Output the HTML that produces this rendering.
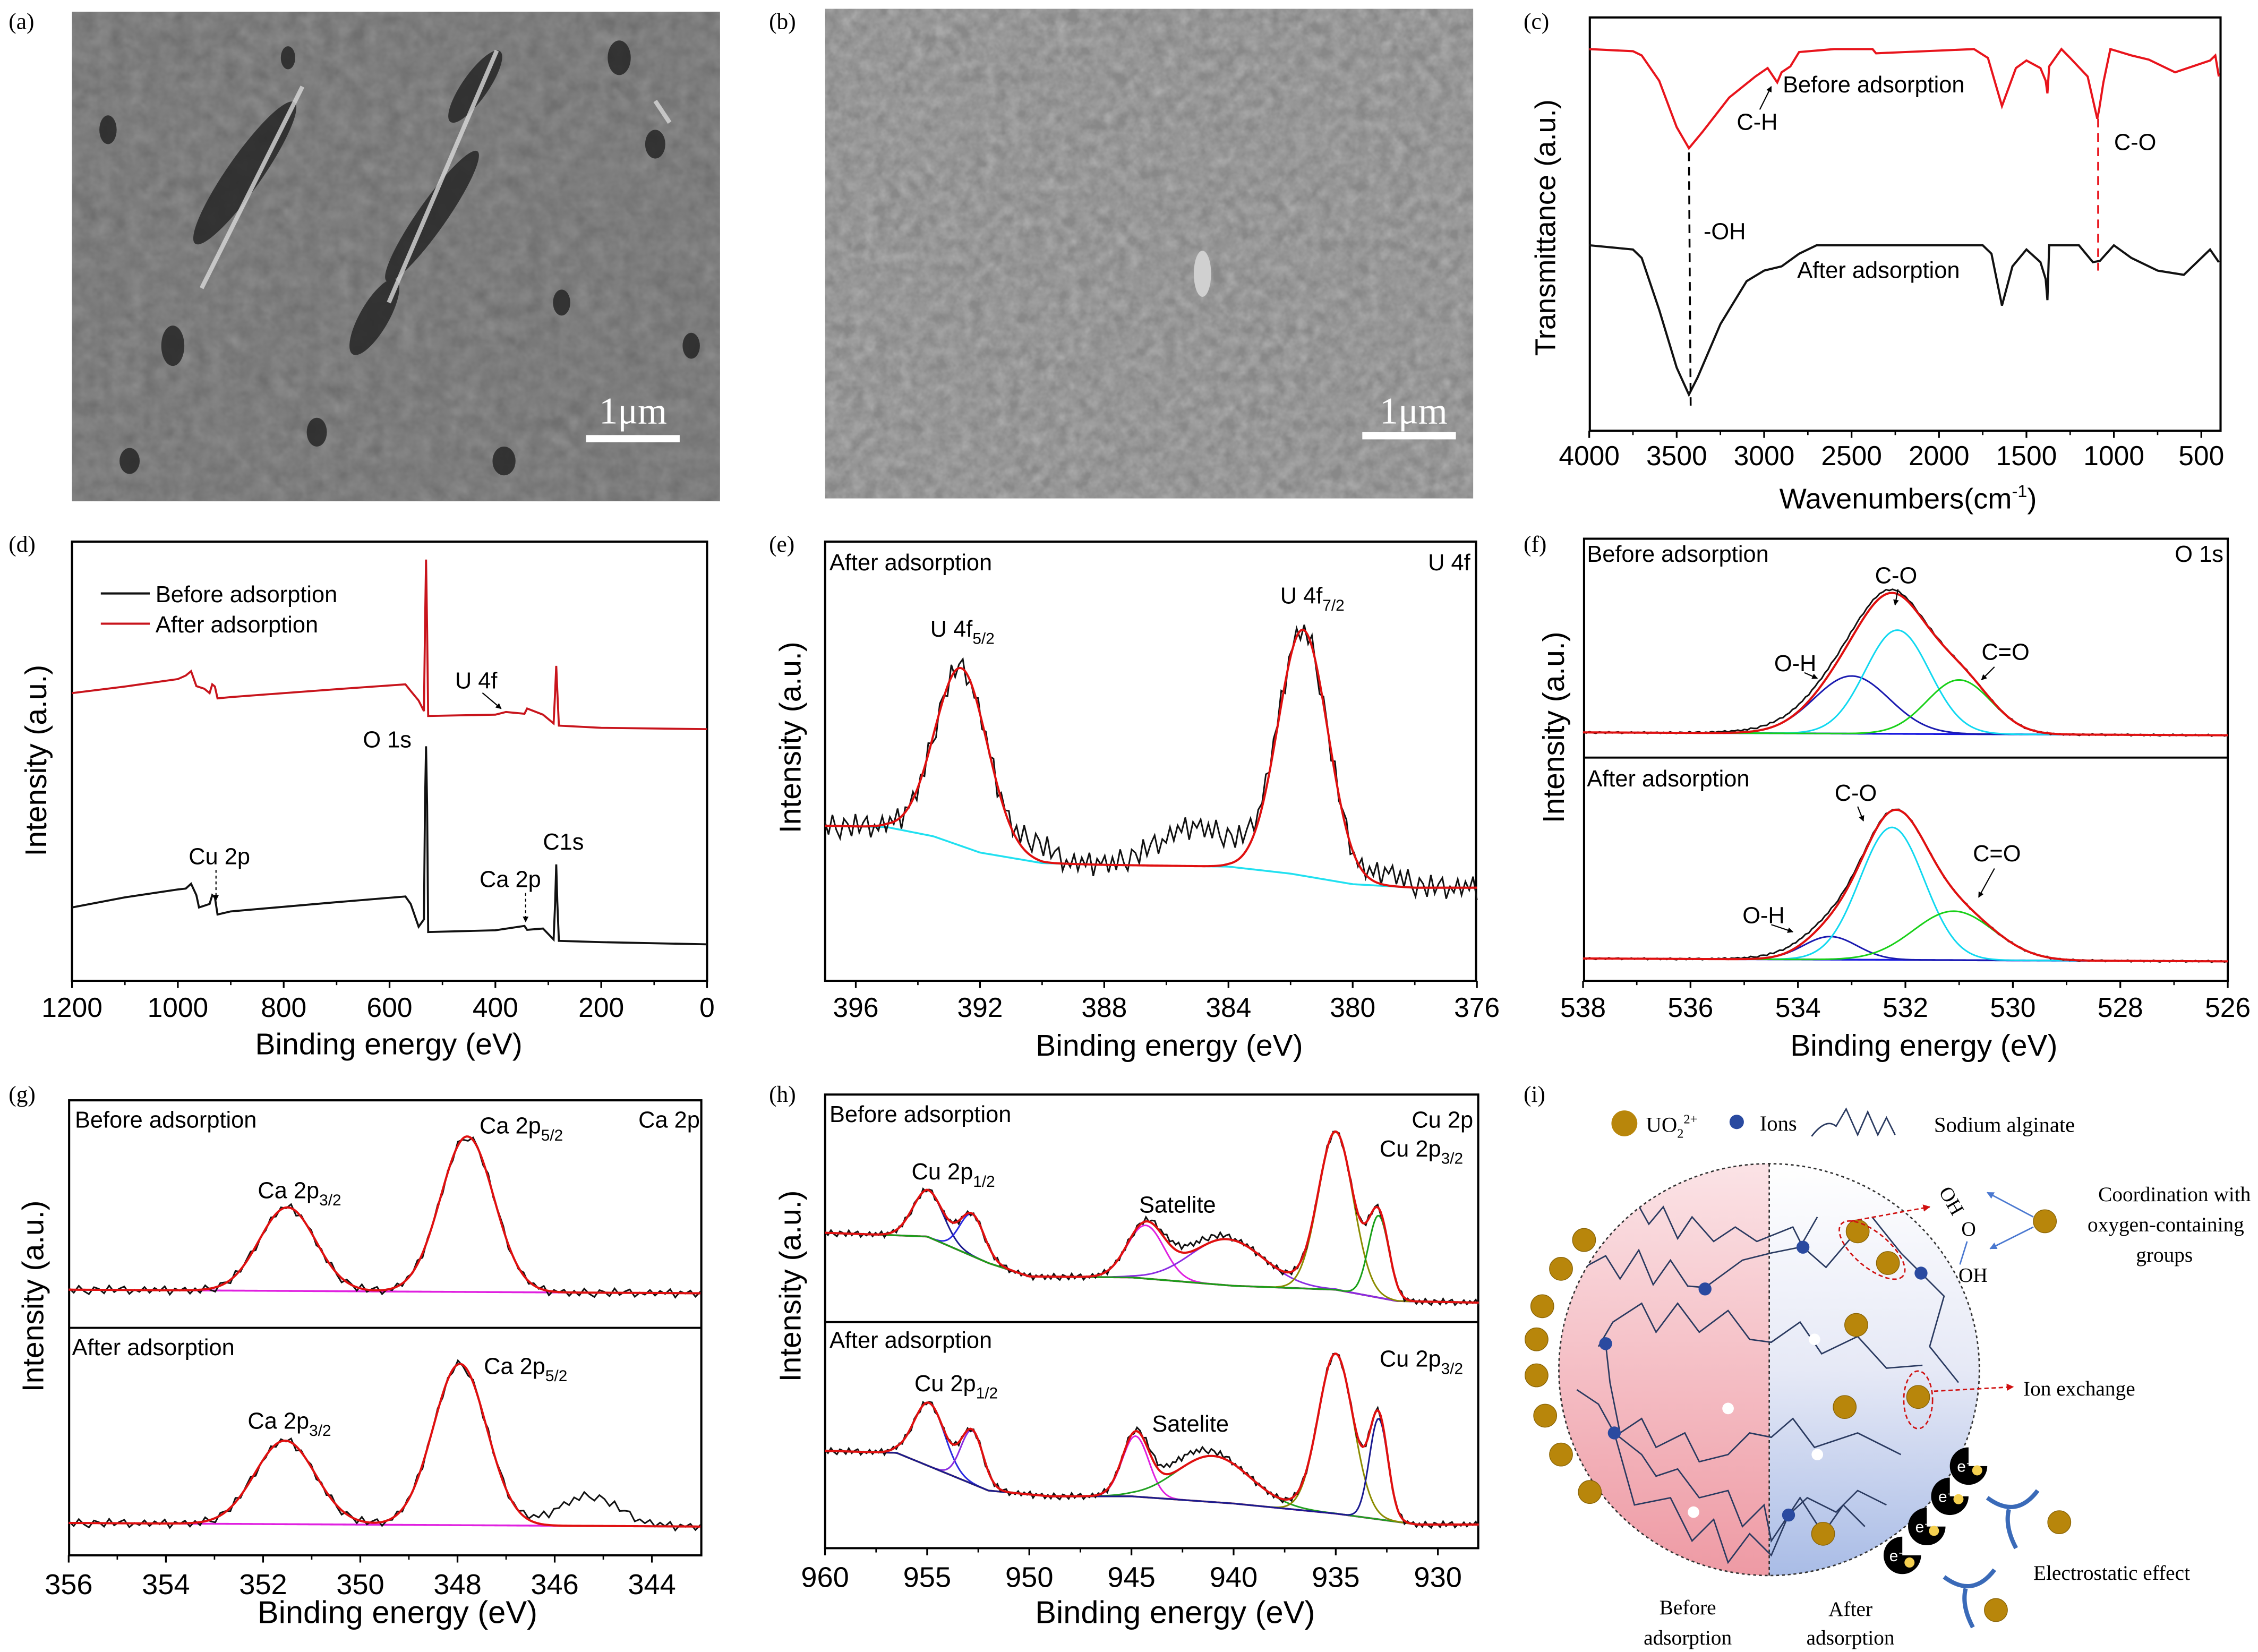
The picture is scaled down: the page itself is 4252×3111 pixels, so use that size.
<!DOCTYPE html>
<html><head><meta charset="utf-8"><style>
html,body{margin:0;padding:0;background:#fff;}
svg{display:block;}
text{font-family:"Liberation Sans",sans-serif;}
.serif{font-family:"Liberation Serif",serif;}
</style></head><body>
<svg id="fig" xmlns="http://www.w3.org/2000/svg" width="4252" height="3111" viewBox="0 0 1568 1147">
<defs>
<filter id="semA" x="0" y="0" width="100%" height="100%"><feTurbulence type="fractalNoise" baseFrequency="0.09" numOctaves="3" seed="3"/><feColorMatrix type="matrix" values="0 0 0 0 0.5  0 0 0 0 0.5  0 0 0 0 0.5  0.25 0.25 0.25 0 -0.2"/></filter>
<filter id="semB" x="0" y="0" width="100%" height="100%"><feTurbulence type="fractalNoise" baseFrequency="0.12" numOctaves="3" seed="7"/><feColorMatrix type="matrix" values="0 0 0 0 0.7  0 0 0 0 0.7  0 0 0 0 0.7  0.35 0.35 0.35 0 -0.35"/></filter>
<linearGradient id="gl" x1="0" y1="0" x2="0" y2="1"><stop offset="0" stop-color="#fbe3e6"/><stop offset="1" stop-color="#ee9aa4"/></linearGradient>
<linearGradient id="gr" x1="0" y1="0" x2="0" y2="1"><stop offset="0" stop-color="#ffffff"/><stop offset="0.5" stop-color="#e6e9f6"/><stop offset="1" stop-color="#a9bce6"/></linearGradient>
<clipPath id="cl"><rect x="1075" y="800" width="153.6" height="300"/></clipPath>
<clipPath id="cr"><rect x="1228.6" y="800" width="160" height="300"/></clipPath>
<clipPath id="cball"><ellipse cx="1228.5" cy="951" rx="146" ry="143"/></clipPath>
<marker id="arr" viewBox="0 0 10 10" refX="9" refY="5" markerWidth="5" markerHeight="5" orient="auto"><path d="M0,0L10,5L0,10z" fill="#000"/></marker>
<marker id="arrR" viewBox="0 0 10 10" refX="9" refY="5" markerWidth="5" markerHeight="5" orient="auto"><path d="M0,0L10,5L0,10z" fill="#d01010"/></marker>
<marker id="arrB" viewBox="0 0 10 10" refX="9" refY="5" markerWidth="5" markerHeight="5" orient="auto"><path d="M0,0L10,5L0,10z" fill="#4a78d0"/></marker>
</defs>

<text class="serif" x="6" y="20" font-size="16">(a)</text>
<text class="serif" x="534" y="20" font-size="16">(b)</text>
<text class="serif" x="1058" y="20" font-size="16">(c)</text>
<text class="serif" x="6" y="383" font-size="16">(d)</text>
<text class="serif" x="534" y="383" font-size="16">(e)</text>
<text class="serif" x="1058" y="383" font-size="16">(f)</text>
<text class="serif" x="6" y="765" font-size="16">(g)</text>
<text class="serif" x="534" y="765" font-size="16">(h)</text>
<text class="serif" x="1058" y="765" font-size="16">(i)</text>

<g>
<rect x="50" y="8" width="450" height="340" fill="#6f6f6f"/>
<rect x="50" y="8" width="450" height="340" filter="url(#semA)"/>
<g fill="#262626" opacity="0.85">
<ellipse cx="170" cy="120" rx="12" ry="60" transform="rotate(35 170 120)"/>
<ellipse cx="300" cy="150" rx="10" ry="55" transform="rotate(35 300 150)"/>
<ellipse cx="330" cy="60" rx="9" ry="30" transform="rotate(35 330 60)"/>
<ellipse cx="260" cy="220" rx="10" ry="30" transform="rotate(30 260 220)"/>
<ellipse cx="120" cy="240" rx="8" ry="14"/><ellipse cx="430" cy="40" rx="8" ry="12"/>
<ellipse cx="455" cy="100" rx="7" ry="10"/><ellipse cx="390" cy="210" rx="6" ry="9"/>
<ellipse cx="75" cy="90" rx="6" ry="10"/><ellipse cx="220" cy="300" rx="7" ry="10"/>
<ellipse cx="350" cy="320" rx="8" ry="10"/><ellipse cx="480" cy="240" rx="6" ry="9"/>
<ellipse cx="90" cy="320" rx="7" ry="9"/><ellipse cx="200" cy="40" rx="5" ry="8"/>
</g>
<g stroke="#d8d8d8" stroke-width="3" fill="none" opacity="0.8">
<path d="M140 200 L210 60"/><path d="M270 210 L345 35"/><path d="M455 70 L465 85"/>
</g>
<rect x="407" y="302" width="65" height="5" fill="#fff"/>
<text class="serif" x="416" y="294" font-size="26" fill="#fff">1μm</text>
</g>
<g>
<rect x="573" y="6" width="450" height="340" fill="#888"/>
<rect x="573" y="6" width="450" height="340" filter="url(#semB)"/>
<ellipse cx="835" cy="190" rx="6" ry="16" fill="#d0d0d0"/>
<rect x="946" y="300" width="65" height="5" fill="#fff"/>
<text class="serif" x="958" y="294" font-size="26" fill="#fff">1μm</text>
</g>

<g id="plots"></g>

<g font-size="19">
<text x="1325" y="353" text-anchor="middle" font-size="20">Wavenumbers(cm<tspan dy="-8" font-size="12">-1</tspan><tspan dy="8">)</tspan></text>
<text transform="translate(1080 158) rotate(-90)" text-anchor="middle" font-size="20">Transmittance (a.u.)</text>
<text x="1238" y="64" font-size="16">Before adsorption</text>
<text x="1248" y="193" font-size="16">After adsorption</text>
<text x="1206" y="90" font-size="16">C-H</text>
<text x="1468" y="104" font-size="16">C-O</text>
<text x="1183" y="166" font-size="16">-OH</text>

<text x="270" y="732" text-anchor="middle" font-size="21">Binding energy (eV)</text>
<text transform="translate(32 528) rotate(-90)" text-anchor="middle" font-size="21">Intensity (a.u.)</text>
<text x="108" y="418" font-size="16">Before adsorption</text>
<text x="108" y="439" font-size="16">After adsorption</text>
<text x="316" y="478" font-size="16">U 4f</text>
<text x="252" y="519" font-size="16">O 1s</text>
<text x="131" y="600" font-size="16">Cu 2p</text>
<text x="333" y="616" font-size="16">Ca 2p</text>
<text x="377" y="590" font-size="16">C1s</text>

<text x="812" y="733" text-anchor="middle" font-size="21">Binding energy (eV)</text>
<text transform="translate(556 512) rotate(-90)" text-anchor="middle" font-size="21">Intensity (a.u.)</text>
<text x="576" y="396" font-size="16">After adsorption</text>
<text x="1021" y="396" font-size="16" text-anchor="end">U 4f</text>
<text x="646" y="442" font-size="16">U 4f<tspan dy="5" font-size="11">5/2</tspan></text>
<text x="889" y="419" font-size="16">U 4f<tspan dy="5" font-size="11">7/2</tspan></text>

<text x="1336" y="733" text-anchor="middle" font-size="21">Binding energy (eV)</text>
<text transform="translate(1086 505) rotate(-90)" text-anchor="middle" font-size="21">Intensity (a.u.)</text>
<text x="1102" y="390" font-size="16">Before adsorption</text>
<text x="1544" y="390" font-size="16" text-anchor="end">O 1s</text>
<text x="1302" y="405" font-size="16">C-O</text>
<text x="1376" y="458" font-size="16">C=O</text>
<text x="1232" y="466" font-size="16">O-H</text>
<text x="1102" y="546" font-size="16">After adsorption</text>
<text x="1274" y="556" font-size="16">C-O</text>
<text x="1370" y="598" font-size="16">C=O</text>
<text x="1210" y="641" font-size="16">O-H</text>

<text x="276" y="1127" text-anchor="middle" font-size="22">Binding energy (eV)</text>
<text transform="translate(30 900) rotate(-90)" text-anchor="middle" font-size="21">Intensity (a.u.)</text>
<text x="52" y="783" font-size="16">Before adsorption</text>
<text x="486" y="783" font-size="16" text-anchor="end">Ca 2p</text>
<text x="179" y="832" font-size="16">Ca 2p<tspan dy="5" font-size="11">3/2</tspan></text>
<text x="333" y="787" font-size="16">Ca 2p<tspan dy="5" font-size="11">5/2</tspan></text>
<text x="50" y="941" font-size="16">After adsorption</text>
<text x="172" y="992" font-size="16">Ca 2p<tspan dy="5" font-size="11">3/2</tspan></text>
<text x="336" y="954" font-size="16">Ca 2p<tspan dy="5" font-size="11">5/2</tspan></text>

<text x="816" y="1127" text-anchor="middle" font-size="22">Binding energy (eV)</text>
<text transform="translate(556 893) rotate(-90)" text-anchor="middle" font-size="21">Intensity (a.u.)</text>
<text x="576" y="779" font-size="16">Before adsorption</text>
<text x="1023" y="783" font-size="16" text-anchor="end">Cu 2p</text>
<text x="958" y="803" font-size="16">Cu 2p<tspan dy="5" font-size="11">3/2</tspan></text>
<text x="633" y="819" font-size="16">Cu 2p<tspan dy="5" font-size="11">1/2</tspan></text>
<text x="791" y="842" font-size="16">Satelite</text>
<text x="576" y="936" font-size="16">After adsorption</text>
<text x="958" y="949" font-size="16">Cu 2p<tspan dy="5" font-size="11">3/2</tspan></text>
<text x="635" y="966" font-size="16">Cu 2p<tspan dy="5" font-size="11">1/2</tspan></text>
<text x="800" y="994" font-size="16">Satelite</text>
</g>

<g>
<circle cx="1128" cy="780" r="9" fill="#b8860b"/>
<text class="serif" x="1143" y="786" font-size="15">UO<tspan dy="4" font-size="9">2</tspan><tspan dy="-10" font-size="9">2+</tspan></text>
<circle cx="1206" cy="779" r="5" fill="#2a4aa0"/>
<text class="serif" x="1222" y="785" font-size="15">Ions</text>
<path d="M1258 789 Q1268 776 1275 782 L1282 770 L1290 788 L1297 772 L1304 788 L1310 776 L1316 788" fill="none" stroke="#2a3a60" stroke-width="1"/>
<text class="serif" x="1343" y="786" font-size="15">Sodium alginate</text>
<ellipse cx="1228.5" cy="951" rx="146" ry="143" fill="url(#gl)" clip-path="url(#cl)"/>
<ellipse cx="1228.5" cy="951" rx="146" ry="143" fill="url(#gr)" clip-path="url(#cr)"/>
<ellipse cx="1228.5" cy="951" rx="146" ry="143" fill="none" stroke="#333" stroke-dasharray="2,2" stroke-width="1"/>
<line x1="1228.6" y1="808" x2="1228.6" y2="1094" stroke="#333" stroke-dasharray="2,2"/>
<g fill="none" stroke="#2a3a60" stroke-width="1" clip-path="url(#cball)">
<path d="M1120 840 L1135 832 L1145 850 L1155 838 L1165 860 L1175 845 L1190 862 L1205 852 L1220 862 L1245 852 L1252 866 L1268 880 L1285 860"/>
<path d="M1100 880 L1115 872 L1125 888 L1138 868 L1148 892 L1160 875 L1172 893 L1184 894 L1210 875 L1230 870 L1250 866 L1262 845"/>
<path d="M1110 935 L1120 918 L1140 905 L1150 925 L1165 905 L1180 925 L1200 910 L1215 930 L1230 932 L1250 918 L1265 940 L1290 928 L1310 950 L1335 948"/>
<path d="M1115 933 L1118 960 L1125 995 L1140 985 L1150 1005 L1170 995 L1180 1015 L1200 1010 L1215 995 L1230 998 L1245 985 L1260 1005 L1290 995 L1320 1010"/>
<path d="M1095 965 L1110 975 L1121 995 L1140 1010 L1150 1025 L1165 1020 L1180 1040 L1200 1035 L1210 1060 L1225 1045 L1230 1070 L1242 1052 L1255 1040 L1275 1050 L1290 1035 L1310 1045"/>
<path d="M1121 995 L1135 1045 L1160 1040 L1175 1070 L1190 1055 L1200 1085 L1215 1065 L1230 1080 L1242 1052 L1250 1040 L1266 1065 L1280 1045 L1295 1060"/>
<path d="M1300 845 L1320 870 L1334 884 L1350 900 L1340 935 L1360 960"/>
</g>
<g fill="#2a4aa0"><circle cx="1184" cy="895" r="4.5"/><circle cx="1252" cy="866" r="4.5"/><circle cx="1334" cy="884" r="4.5"/><circle cx="1115" cy="933" r="4.5"/><circle cx="1121" cy="995" r="4.5"/><circle cx="1242" cy="1052" r="4.5"/></g>
<g fill="#fff"><circle cx="1260" cy="930" r="4"/><circle cx="1200" cy="978" r="4"/><circle cx="1262" cy="1010" r="4"/><circle cx="1176" cy="1050" r="4"/></g>
<g fill="#b8860b" stroke="#8a6508" stroke-width="0.5">
<circle cx="1290" cy="855" r="8"/><circle cx="1311" cy="877" r="8"/><circle cx="1289" cy="920" r="8"/><circle cx="1281" cy="977" r="8"/><circle cx="1332" cy="970" r="8"/><circle cx="1266" cy="1065" r="8"/>
<circle cx="1100" cy="861" r="8"/><circle cx="1084" cy="881" r="8"/><circle cx="1071" cy="907" r="8"/><circle cx="1067" cy="930" r="8"/><circle cx="1067" cy="955" r="8"/><circle cx="1073" cy="983" r="8"/><circle cx="1084" cy="1010" r="8"/><circle cx="1104" cy="1036" r="8"/>
<circle cx="1420" cy="848" r="8"/><circle cx="1430" cy="1057" r="8"/><circle cx="1386" cy="1118" r="8"/>
</g>
<ellipse cx="1300" cy="868" rx="28" ry="12" transform="rotate(40 1300 868)" fill="none" stroke="#d01010" stroke-dasharray="3,2"/>
<ellipse cx="1332" cy="972" rx="10" ry="20" fill="none" stroke="#d01010" stroke-dasharray="3,2"/>
<line x1="1285" y1="848" x2="1340" y2="838" stroke="#d01010" stroke-dasharray="3,2" marker-end="url(#arrR)"/>
<line x1="1343" y1="966" x2="1398" y2="963" stroke="#d01010" stroke-dasharray="3,2" marker-end="url(#arrR)"/>
<line x1="1412" y1="845" x2="1380" y2="828" stroke="#4a78d0" marker-end="url(#arrB)"/>
<line x1="1412" y1="852" x2="1382" y2="867" stroke="#4a78d0" marker-end="url(#arrB)"/>
<text class="serif" x="1348" y="840" font-size="14" transform="rotate(60 1358 832)">OH</text>
<text class="serif" x="1362" y="858" font-size="14">O</text>
<text class="serif" x="1360" y="890" font-size="14">OH</text>
<line x1="1366" y1="862" x2="1361" y2="878" stroke="#4a78d0"/>
<text class="serif" x="1510" y="834" font-size="14.5" text-anchor="middle">Coordination with</text>
<text class="serif" x="1504" y="855" font-size="14.5" text-anchor="middle">oxygen-containing</text>
<text class="serif" x="1503" y="876" font-size="14.5" text-anchor="middle">groups</text>
<text class="serif" x="1405" y="969" font-size="14.5">Ion exchange</text>
<text class="serif" x="1412" y="1097" font-size="14.5">Electrostatic effect</text>
<text class="serif" x="1172" y="1121" font-size="14.5" text-anchor="middle">Before</text>
<text class="serif" x="1172" y="1142" font-size="14.5" text-anchor="middle">adsorption</text>
<text class="serif" x="1285" y="1122" font-size="14.5" text-anchor="middle">After</text>
<text class="serif" x="1285" y="1142" font-size="14.5" text-anchor="middle">adsorption</text>
<g>
<path d="M1367 1005 a13 13 0 1 0 13 13 l-13 0z" fill="#000"/><circle cx="1373" cy="1021" r="3.5" fill="#f5d050"/>
<path d="M1354 1026 a13 13 0 1 0 13 13 l-13 0z" fill="#000"/><circle cx="1360" cy="1041" r="3.5" fill="#f5d050"/>
<path d="M1338 1047 a13 13 0 1 0 13 13 l-13 0z" fill="#000"/><circle cx="1343" cy="1063" r="3.5" fill="#f5d050"/>
<path d="M1321 1067 a13 13 0 1 0 13 13 l-13 0z" fill="#000"/><circle cx="1326" cy="1085" r="3.5" fill="#f5d050"/>
<g fill="#fff" font-size="11" class="serif"><text x="1359" y="1022">e⁻</text><text x="1346" y="1043">e⁻</text><text x="1330" y="1064">e⁻</text><text x="1312" y="1084">e⁻</text></g>
</g>
<g fill="none" stroke="#3a6ab8" stroke-width="3">
<path d="M1380 1040 Q1400 1055 1415 1035"/><path d="M1395 1048 Q1392 1060 1400 1075"/>
<path d="M1350 1095 Q1370 1110 1385 1090"/><path d="M1365 1103 Q1362 1115 1370 1130"/>
</g>
</g>
</svg>

<script>
const NS='http://www.w3.org/2000/svg';
const plots=document.getElementById('plots');
function lin(d0,d1,r0,r1){return v=>r0+(v-d0)*(r1-r0)/(d1-d0);}
function mk(tag,attrs){const e=document.createElementNS(NS,tag);for(const k in attrs)e.setAttribute(k,attrs[k]);plots.appendChild(e);return e;}
function interp(xs,vs,x){for(let i=0;i<xs.length-1;i++){const a=xs[i],b=xs[i+1];if((x-a)*(x-b)<=0){const t=(x-a)/(b-a||1);return vs[i]+t*(vs[i+1]-vs[i]);}}return Math.abs(x-xs[0])<Math.abs(x-xs[xs.length-1])?vs[0]:vs[vs.length-1];}
function gauss(x,c,h,s){return h*Math.exp(-(x-c)*(x-c)/(2*s*s));}
function dPts(pts){return pts.map((p,i)=>(i?'L':'M')+p[0].toFixed(2)+' '+p[1].toFixed(2)).join(' ');}
function frame(x0,y0,x1,y1){return mk('rect',{x:x0,y:y0,width:x1-x0,height:y1-y0,fill:'none',stroke:'#000','stroke-width':1.5});}
function xAxis(sx,ticks,minor,yb,fs,off){
  ticks.forEach(t=>{
    const l=mk('line',{x1:sx(t),x2:sx(t),y1:yb,y2:yb+5,stroke:'#000','stroke-width':1.2});
    
    const tx=mk('text',{x:sx(t),y:yb+off,'text-anchor':'middle','font-size':fs});
    
    tx.textContent=t;
  });
  minor.forEach(t=>{
    const l=mk('line',{x1:sx(t),x2:sx(t),y1:yb,y2:yb+3,stroke:'#000','stroke-width':1});
    
  });
}

// ---------- (c) FTIR data ----------
const ftirRedWn=[4000,3750,3700,3600,3500,3430,3350,3200,3050,2980,2925,2900,2850,2800,2600,2380,2360,1800,1720,1640,1560,1500,1420,1390,1380,1370,1300,1250,1150,1095,1085,1060,1020,900,800,650,550,450,420,400];
const ftirRedT=[92.5,92,91,85,74,69,73,81,86,88,84.6,87,88.4,91.8,92.5,92.5,91.5,92.5,90.4,79,88,89.8,88,85,82,88.4,92.5,90.4,86,76,78,84.6,92.5,91,90,87,88.4,89.8,91,86];
const ftirBlackWn=[4000,3750,3700,3600,3500,3430,3380,3250,3100,3000,2900,2800,2700,2200,1750,1700,1640,1580,1500,1420,1390,1380,1370,1200,1120,1080,1000,900,750,600,450,400];
const ftirBlackT=[46,45,43,30.7,17,10.6,14.7,27.3,37.5,40,41,44,46,46,46,44,31.7,41,45,42,38,33,46,46,42,42.3,46,43,40,39,45,42];
const ftirTicks=[4000,3500,3000,2500,2000,1500,1000,500];
{
 const sx=lin(4000,390,1103.6,1542), sy=lin(0,100,305,12);
 const f=frame(1104,12,1542,299);
 
 
 xAxis(sx,ftirTicks,[3750,3250,2750,2250,1750,1250,750],299,19,24);
 const r=mk('path',{d:dPts(ftirRedWn.map((w,i)=>[sx(w),sy(ftirRedT[i])])),fill:'none',stroke:'#e8141c','stroke-width':1.5});
 
 
 const b=mk('path',{d:dPts(ftirBlackWn.map((w,i)=>[sx(w),sy(ftirBlackT[i])])),fill:'none',stroke:'#111','stroke-width':1.5});
 
 
 const l1=mk('line',{x1:sx(3430),x2:sx(3420),y1:sy(68),y2:sy(8),stroke:'#000','stroke-dasharray':'6,4','stroke-width':1.3});
 
 const l2=mk('line',{x1:sx(1090),x2:sx(1090),y1:sy(76),y2:sy(40),stroke:'#e8141c','stroke-dasharray':'6,4','stroke-width':1.3});
 
 const a=mk('line',{x1:1222,y1:76,x2:1230,y2:60,stroke:'#000','stroke-width':0.8,'marker-end':'url(#arr)'});
 
}

// ---------- (d) survey ----------
const surveyRedE=[1200,1100,1000,985,975,965,950,940,935,930,925,900,700,570,560,545,535,533,531,529,527,400,380,345,340,310,290,287,285,283,280,200,0];
const surveyRedI=[65.5,67,68.7,69.5,70.5,67.1,66.5,65.5,67.5,67,64.3,64.6,66.4,67.5,66,63.8,61.4,80,95.9,80,60.3,60.6,61.2,60.8,62,60.6,58.6,66,71.7,66,58.1,57.6,57.3];
const surveyBlackE=[1200,1100,1000,985,975,965,960,940,935,930,925,900,700,570,560,545,535,533,531,529,527,400,345,340,310,290,287,285,283,280,200,0];
const surveyBlackI=[16.7,19,20.8,21,22.1,19.5,16.7,17.5,19.5,19,15.1,15.8,17.9,19.2,17.5,12.3,14,40,53.4,40,11.1,11.5,12.5,11.6,11.9,9.4,18,26.5,18,9.1,8.8,8.3];
{
 const sx=lin(1200,0,50,491), sy=lin(0,100,681,376);
 const f=frame(50,376,491,681);
 
 
 xAxis(sx,[1200,1000,800,600,400,200,0],[1100,900,700,500,300,100],681,19,25);
 const r=mk('path',{d:dPts(surveyRedE.map((e,i)=>[sx(e),sy(surveyRedI[i])])),fill:'none',stroke:'#c8141c','stroke-width':1.4});
 
 
 const b=mk('path',{d:dPts(surveyBlackE.map((e,i)=>[sx(e),sy(surveyBlackI[i])])),fill:'none',stroke:'#111','stroke-width':1.4});
 
 
 const lg1=mk('line',{x1:70,x2:104,y1:412,y2:412,stroke:'#111','stroke-width':1.5});
 
 const lg2=mk('line',{x1:70,x2:104,y1:433,y2:433,stroke:'#c8141c','stroke-width':1.5});
 
 const a1=mk('line',{x1:335,y1:481,x2:348,y2:492,stroke:'#000','stroke-width':0.8,'marker-end':'url(#arr)'});
 
 const a2=mk('line',{x1:365,y1:620,x2:365,y2:640,stroke:'#000','stroke-width':0.8,'stroke-dasharray':'2,2','marker-end':'url(#arr)'});
 
 const a3=mk('line',{x1:150,y1:604,x2:150,y2:625,stroke:'#000','stroke-width':0.8,'stroke-dasharray':'2,2','marker-end':'url(#arr)'});
 
}

// ---------- XPS generic ----------
const jitter=[0.4,-0.7,0.9,-0.3,-1,0.6,0.2,-0.8,1,-0.5,0.3,0.8,-0.9,0.1,-0.4,0.7,-0.6,0.5,-0.2,0.9,-1,0.4,-0.1,0.6,-0.8];
function drawXPS(sx,sy,xmin,xmax,baseX,baseV,cs,hs,ws,colors,noiseAmp,baseColor,tag,extraC,extraH,extraW,n){
  const pts=[], fit=[], base=[], comps=cs.map(()=>[]);
  const N=400;
  for(let i=0;i<=N;i++){
    const x=xmax-(xmax-xmin)*i/N; const b=interp(baseX,baseV,x);
    let s=b; cs.forEach((c,k)=>{const g=gauss(x,c,hs[k],ws[k]); s+=g; comps[k].push([sx(x),sy(b+g)]);});
    base.push([sx(x),sy(b)]); fit.push([sx(x),sy(s)]);
  }
  for(let i=0;i<=n;i++){
    const x=xmax-(xmax-xmin)*i/n; const b=interp(baseX,baseV,x);
    let s=b; cs.forEach((c,k)=>{s+=gauss(x,c,hs[k],ws[k]);});
    extraC.forEach((c,k)=>{s+=gauss(x,c,extraH[k],extraW[k]);});
    pts.push([sx(x),sy(s+noiseAmp*jitter[i%jitter.length])]);
  }
  const bl=mk('path',{d:dPts(base),fill:'none',stroke:baseColor,'stroke-width':1.3});
  
  
  comps.forEach((c,k)=>{if(!colors[k])return;
    const p=mk('path',{d:dPts(c),fill:'none',stroke:colors[k],'stroke-width':1.1});
    
    
  });
  const ex=mk('path',{d:dPts(pts),fill:'none',stroke:'#111','stroke-width':1.1});
  
  
  const ft=mk('path',{d:dPts(fit),fill:'none',stroke:'#e01010','stroke-width':1.5});
  
  
}

// ---------- (e) U 4f ----------
const eBaseX=[397,395,393.5,392,390,388,384,382,380,378,376];
const eBaseV=[35.3,35,32.9,29.2,26.8,26.4,26,24.4,22,21.2,21.2];
const eCenters=[392.6,381.6];
const eHeights=[40.5,56];
const eWidths=[0.85,0.8];
const eExtraC=[385,390.2,378.8];
const eExtraH=[9,4,3];
const eExtraW=[1.2,0.5,0.5];
{
 const sx=lin(397,376,572.7,1025.6), sy=lin(0,100,681,376);
 const f=frame(573,376,1025,681);
 
 
 xAxis(sx,[396,392,388,384,380,376],[394,390,386,382,378],681,19,25);
 drawXPS(sx,sy,376,397,eBaseX,eBaseV,eCenters,eHeights,eWidths,[null,null],2.8,'#20e0f0','u4f',eExtraC,eExtraH,eExtraW,170);
}

// ---------- (f) O 1s ----------
const fTopCenters=[533.0,532.15,531.0];
const fTopHeights=[40,72,37.6];
const fTopWidths=[0.7,0.6,0.6];
const fBotCenters=[533.4,532.25,531.1];
const fBotHeights=[16,92,34];
const fBotWidths=[0.5,0.6,0.75];
const fColors=['#1a1ab0','#10d8f0','#18d018'];
{
 const sx=lin(538,526,1099.3,1547);
 const f=frame(1100,374,1547,681);
 
 
 const dv=mk('line',{x1:1100,x2:1547,y1:526,y2:526,stroke:'#000','stroke-width':1.4});
 
 xAxis(sx,[538,536,534,532,530,528,526],[537,535,533,531,529,527],681,19,25);
 drawXPS(sx,v=>508.5-v,526,538,[538,526],[0,-2],fTopCenters,fTopHeights,fTopWidths,fColors,0.6,'#1a1ae0','o1s-before',[533.5],[5],[1.0],200);
 drawXPS(sx,v=>665.5-v,526,538,[538,526],[0,-2],fBotCenters,fBotHeights,fBotWidths,fColors,0.6,'#1a1ae0','o1s-after',[533.8],[4],[0.7],200);
 const a1=mk('line',{x1:1318,y1:409,x2:1316,y2:420,stroke:'#000','stroke-width':0.8,'marker-end':'url(#arr)'});
 
 const a2=mk('line',{x1:1385,y1:463,x2:1376,y2:472,stroke:'#000','stroke-width':0.8,'marker-end':'url(#arr)'});
 
 const a3=mk('line',{x1:1253,y1:467,x2:1262,y2:471,stroke:'#000','stroke-width':0.8,'marker-end':'url(#arr)'});
 
 const a4=mk('line',{x1:1290,y1:560,x2:1294,y2:570,stroke:'#000','stroke-width':0.8,'marker-end':'url(#arr)'});
 
 const a5=mk('line',{x1:1385,y1:603,x2:1374,y2:623,stroke:'#000','stroke-width':0.8,'marker-end':'url(#arr)'});
 
 const a6=mk('line',{x1:1230,y1:642,x2:1245,y2:647,stroke:'#000','stroke-width':0.8,'marker-end':'url(#arr)'});
 
}

// ---------- (g) Ca 2p ----------
const gTopCenters=[351.5,347.8];
const gTopHeights=[58,108];
const gTopWidths=[0.58,0.55];
const gBotCenters=[351.55,347.95];
const gBotHeights=[58,112];
const gBotWidths=[0.62,0.55];
const gBotExtraC=[345.3];
const gBotExtraH=[21];
const gBotExtraW=[0.6];
{
 const sx=lin(356,344,47.7,452.7);
 const f=frame(48,764,487,1080);
 
 
 const dv=mk('line',{x1:48,x2:487,y1:922,y2:922,stroke:'#000','stroke-width':1.4});
 
 xAxis(sx,[356,354,352,350,348,346,344],[355,353,351,349,347,345],1080,20,27);
 drawXPS(sx,v=>895.5-v,343,356,[356,343],[0,-2.5],gTopCenters,gTopHeights,gTopWidths,[null,null],3,'#e020e0','ca2p-before',[354],[0],[1],125);
 drawXPS(sx,v=>1057.5-v,343,356,[356,343],[0,-2.5],gBotCenters,gBotHeights,gBotWidths,[null,null],3,'#e020e0','ca2p-after',gBotExtraC,gBotExtraH,gBotExtraW,125);
}

// ---------- (h) Cu 2p ----------
const hBaseX=[960,957,955,952,950,945,940,935,932,928];
const hTopBase=[62,60.5,59.4,41,31.7,31,25.2,22.5,14.6,13.5];
const hTopCenters=[954.95,952.8,944.3,940.3,935.0,932.9];
const hTopHeights=[32.6,29,37,32,109.5,57];
const hTopWidths=[0.75,0.6,0.9,1.8,0.85,0.5];
const hTopColors=['#1a1a90','#2a2ae0','#e020e0','#8a2be2','#8b8b00','#18a018'];
const hBotBaseX=[960,956.5,952,949,945,940,935,931,928];
const hBotBase=[67.6,66.2,40,36,36,31,24,16.4,16.4];
const hBotCenters=[954.9,952.8,944.8,941.0,935.0,932.9];
const hBotHeights=[44,37,42,32,111,70];
const hBotWidths=[0.75,0.55,0.65,1.8,0.85,0.45];
const hBotColors=['#2a2ae0','#8a2be2','#e020e0','#20a020','#8b8b00','#1a1a90'];
{
 const sx=lin(960,930,572.9,998.5);
 const f=frame(573,760,1026.5,1075);
 
 
 const dv=mk('line',{x1:573,x2:1026.5,y1:918,y2:918,stroke:'#000','stroke-width':1.4});
 
 xAxis(sx,[960,955,950,945,940,935,930],[957.5,952.5,947.5,942.5,937.5,932.5],1075,20,27);
 drawXPS(sx,v=>918-v,928,960,hBaseX,hTopBase,hTopCenters,hTopHeights,hTopWidths,hTopColors,2.2,'#7a1010','cu2p-before',[942],[5],[1.2],220);
 drawXPS(sx,v=>1075-v,928,960,hBotBaseX,hBotBase,hBotCenters,hBotHeights,hBotWidths,hBotColors,2.2,'#7a1010','cu2p-after',[942.5],[7],[1.2],220);
}
</script>
</body></html>
